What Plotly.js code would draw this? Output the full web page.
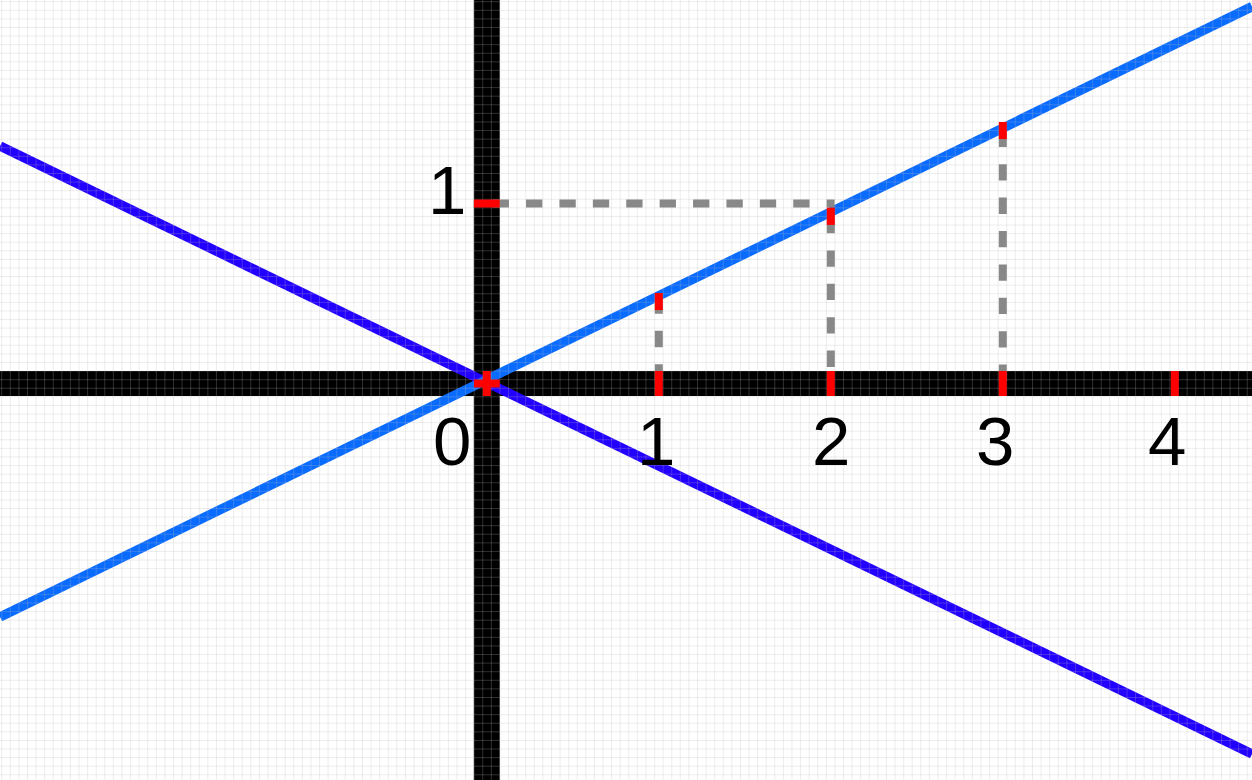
<!DOCTYPE html>
<html>
<head>
<meta charset="utf-8">
<script src="https://cdn.plot.ly/plotly-3.0.1.min.js"></script>
<style>
html,body{margin:0;padding:0;background:#fff;}
#chart{width:1252px;height:780px;}
</style>
</head>
<body>
<div id="chart"></div>
<script>
// ---- data ----
// rising line (light blue) and falling line (dark blue), endpoints at the plot edges
const risingX = [-2.830, 4.449];
const risingY = [-1.297, 2.094];
const fallingX = [-2.830, 4.449];
const fallingY = [1.319, -2.058];

// x-axis tick positions and labels
const xTickVals = [0, 1, 2, 3, 4];
const xTickText = ['0', '1', '2', '3', '4'];
// y-axis tick
const yTickVals = [1];
const yTickText = ['1'];

// short red marks on the rising line
const markX = [1, 2, 3];
const markTop = [0.503, 0.977, 1.453];
const markBottom = [0.408, 0.881, 1.358];

// grey dashed guides
const guideVX = [1, 2, 3];
const guideVTop = [0.478, 0.925, 1.404];
const guideHY = 1;
const guideHX = [0.034, 2.022];

// ---- layout constants ----
const W = 1252, H = 780;
const ox = 486.8, oy = 383.5;      // origin in pixels
const sx = 172, sy = 180;          // pixels per unit
const xr = [-ox / sx, (W - ox) / sx];
const yr = [-(H - oy) / sy, oy / sy];

const traces = [];
const seg = (xs, ys, color, width, dash) => ({
  type: 'scatter', mode: 'lines', x: xs, y: ys, hoverinfo: 'skip',
  line: {color: color, width: width, dash: dash || 'solid'}, showlegend: false
});

// black axes
traces.push(seg([xr[0], xr[1]], [0, 0], '#000000', 25));
traces.push(seg([0, 0], [yr[0], yr[1]], '#000000', 26));

// lines
traces.push(seg(fallingX, fallingY, '#2200ff', 9.5));
traces.push(seg(risingX, risingY, '#0a6cff', 9.5));

// background grid drawn over lines and axes
const gx = [], gy = [];
const step = 8.59, off = 1.7;
for (let p = off; p < W; p += step) {
  const v = (p - ox) / sx;
  gx.push(v, v, null); gy.push(yr[0], yr[1], null);
}
for (let p = off; p < H; p += step) {
  const v = (oy - p) / sy;
  gx.push(xr[0], xr[1], null); gy.push(v, v, null);
}
traces.push(seg(gx, gy, 'rgba(185,185,185,0.26)', 1));

// grey dashed guides
const dash = '16.3px,17.1px';
traces.push(seg(guideHX, [guideHY, guideHY], '#888888', 8, dash));
guideVX.forEach((x, i) => traces.push(seg([x, x], [guideVTop[i], 0], '#888888', 8, dash)));

// red tick marks on the axes
const th = 12.5 / sy;   // half height of axis ticks in y units
const tw = 12.9 / sx;   // half width of y tick in x units
xTickVals.forEach(v => traces.push(seg([v, v], [th, -th], '#ff0000', 8)));
traces.push(seg([-tw, tw], [0, 0], '#ff0000', 8));
yTickVals.forEach(v => traces.push(seg([-tw, tw], [v, v], '#ff0000', 8)));

// red marks on the rising line
markX.forEach((x, i) => traces.push(seg([x, x], [markTop[i], markBottom[i]], '#ff0000', 8)));

// labels
const font = {family: '"Liberation Sans", Arial, sans-serif', size: 69, color: '#000'};
const xLabelShift = [-35, -3, 0, -8, -8];
const annotations = [];
xTickVals.forEach((v, i) => annotations.push({
  x: v, y: 0, xref: 'x', yref: 'y', text: xTickText[i], showarrow: false,
  xanchor: 'center', yanchor: 'middle', xshift: xLabelShift[i], yshift: -58, font: font
}));
yTickVals.forEach((v, i) => annotations.push({
  x: 0, y: v, xref: 'x', yref: 'y', text: yTickText[i], showarrow: false,
  xanchor: 'center', yanchor: 'middle', xshift: -40, yshift: 13, font: font
}));

const layout = {
  width: W, height: H,
  margin: {l: 0, r: 0, t: 0, b: 0, pad: 0},
  paper_bgcolor: '#ffffff', plot_bgcolor: '#ffffff',
  showlegend: false,
  xaxis: {range: xr, visible: false, showgrid: false, zeroline: false, fixedrange: true},
  yaxis: {range: yr, visible: false, showgrid: false, zeroline: false, fixedrange: true},
  annotations: annotations
};

Plotly.newPlot('chart', traces, layout, {displayModeBar: false, staticPlot: true});
</script>
</body>
</html>
